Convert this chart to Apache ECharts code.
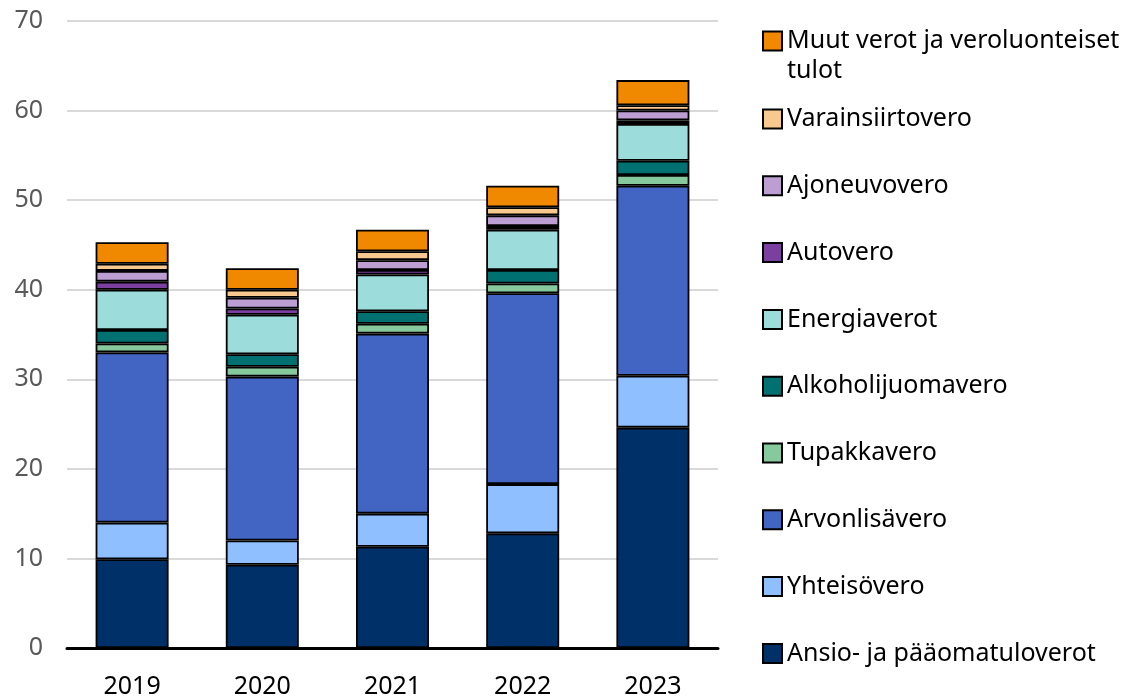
<!DOCTYPE html>
<html>
<head>
<meta charset="utf-8">
<style>
  html, body { margin: 0; padding: 0; background: #fff; }
  #chart { width: 1132px; height: 699px; }
</style>
<script src="https://cdn.jsdelivr.net/npm/echarts@6/dist/echarts.min.js"></script>
</head>
<body>
<div id="chart"></div>
<script>
const years = ["2019", "2020", "2021", "2022", "2023"];

// billions of euros
const ansio = [9.9, 9.3, 11.3, 12.8, 24.6];
const yhteiso = [4.1, 2.7, 3.7, 5.5, 5.8];
const alv = [19.0, 18.3, 20.1, 21.3, 21.2];
const tupakka = [1.0, 1.1, 1.1, 1.1, 1.2];
const alkoholi = [1.5, 1.4, 1.4, 1.5, 1.6];
const energia = [4.5, 4.4, 4.1, 4.5, 4.1];
const autovero = [0.9, 0.7, 0.5, 0.4, 0.4];
const ajoneuvo = [1.2, 1.2, 1.1, 1.2, 1.1];
const varainsiirto = [0.8, 0.9, 1.0, 0.9, 0.6];
const muut = [2.4, 2.4, 2.4, 2.4, 2.8];

const seriesDefs = [
  ["Ansio- ja pääomatuloverot", ansio, "#003068"],
  ["Yhteisövero", yhteiso, "#8fbfff"],
  ["Arvonlisävero", alv, "#4264c3"],
  ["Tupakkavero", tupakka, "#86c99c"],
  ["Alkoholijuomavero", alkoholi, "#007070"],
  ["Energiaverot", energia, "#9cdcda"],
  ["Autovero", autovero, "#7b3fa0"],
  ["Ajoneuvovero", ajoneuvo, "#bc9ed2"],
  ["Varainsiirtovero", varainsiirto, "#f8c98e"],
  ["Muut verot ja veroluonteiset tulot", muut, "#f08800"]
];

const font = "'Noto Sans', sans-serif";
const chart = echarts.init(document.getElementById("chart"));

const legendText = { fontFamily: font, fontSize: 25, color: "#000", lineHeight: 28 };

chart.setOption({
  animation: false,
  grid: { left: 67, right: 414, top: 21, bottom: 48, containLabel: false },
  legend: [
    {
      orient: "vertical",
      left: 757,
      top: 22,
      icon: "rect",
      itemWidth: 19,
      itemHeight: 19,
      itemGap: 38.8,
      textStyle: legendText,
      formatter: () => "Muut verot ja veroluonteiset",
      data: ["Muut verot ja veroluonteiset tulot"]
    },
    {
      orient: "vertical",
      left: 757,
      top: 100,
      icon: "rect",
      itemWidth: 19,
      itemHeight: 19,
      itemGap: 38.8,
      textStyle: legendText,
      data: seriesDefs.slice(0, 9).map(d => d[0]).reverse()
    }
  ],
  graphic: [{
    type: "text",
    left: 787,
    top: 58,
    style: { text: "tulot", font: "25px " + font, fill: "#000" }
  }],
  xAxis: {
    type: "category",
    data: years,
    axisTick: { show: false },
    axisLine: { lineStyle: { color: "#000", width: 3 } },
    axisLabel: { color: "#000", fontFamily: font, fontSize: 25, margin: 26 }
  },
  yAxis: {
    type: "value",
    min: 0,
    max: 70,
    interval: 10,
    axisLine: { show: false },
    axisTick: { show: false },
    splitLine: { lineStyle: { color: "#d9d9d9", width: 2 } },
    axisLabel: { color: "#595959", fontFamily: font, fontSize: 25, margin: 24 }
  },
  series: seriesDefs.map(([name, values, color]) => ({
    name,
    type: "bar",
    stack: "total",
    barWidth: 73,
    data: values,
    itemStyle: { color, borderColor: "#000", borderWidth: 1.8 }
  }))
});
</script>
</body>
</html>
